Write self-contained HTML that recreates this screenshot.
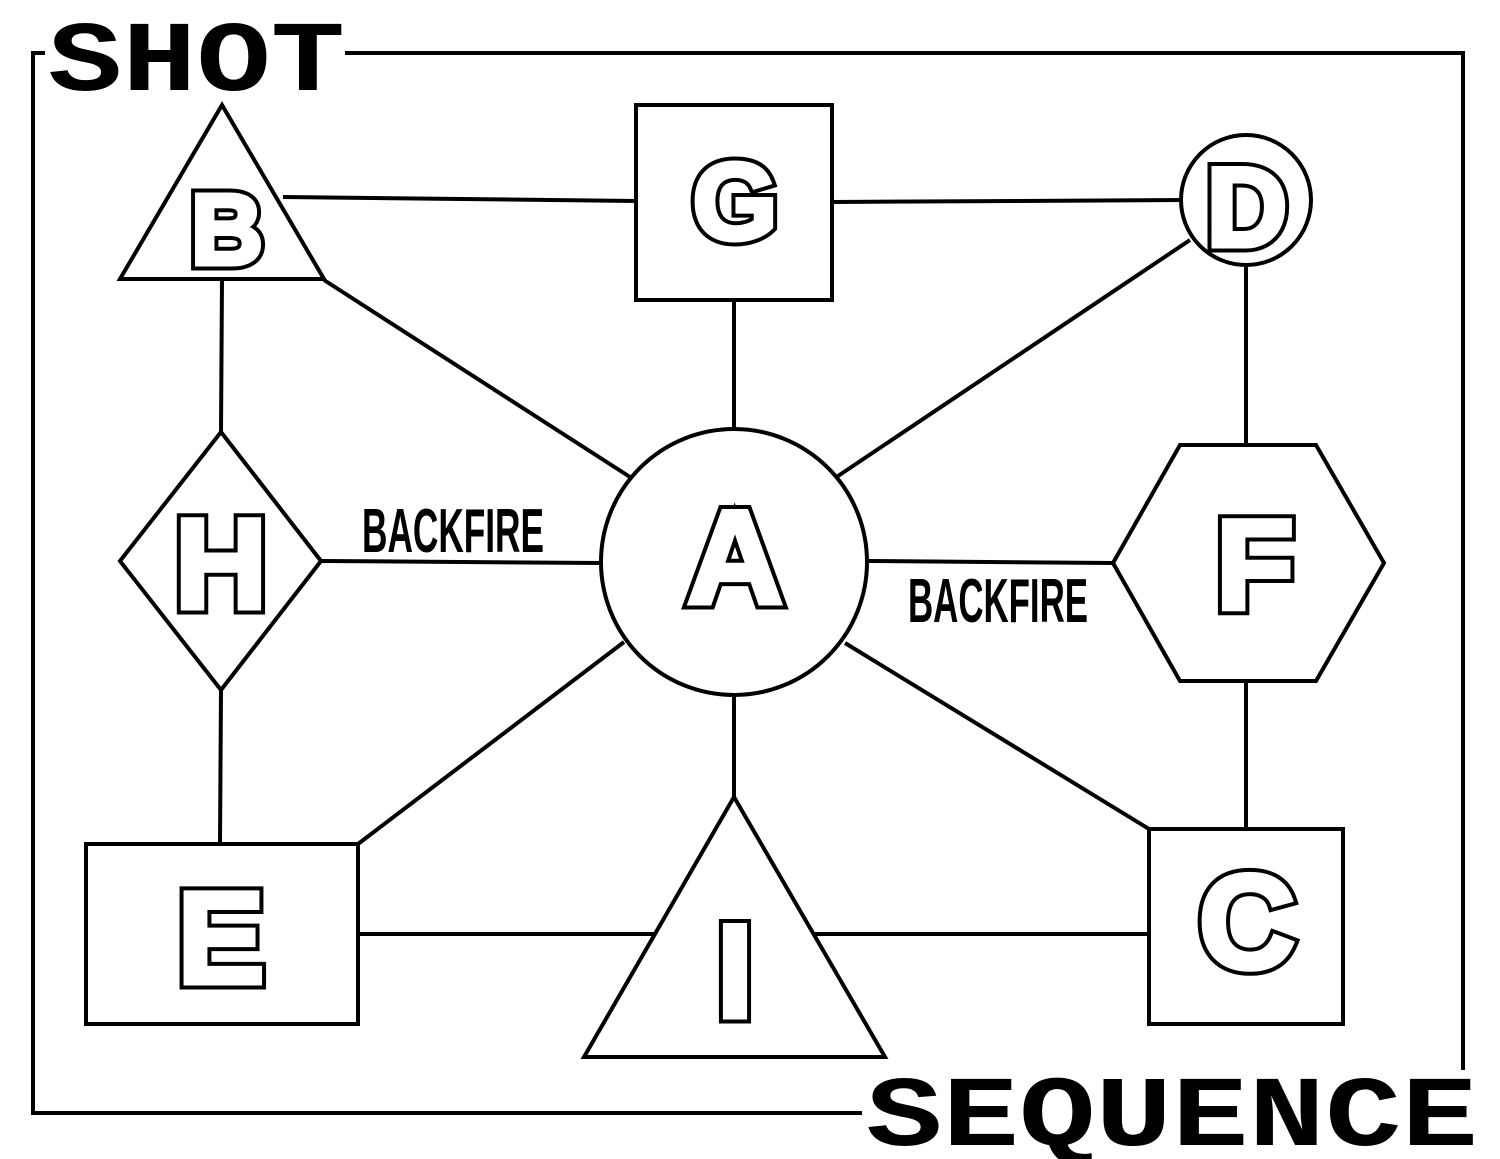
<!DOCTYPE html>
<html><head><style>
html,body{margin:0;padding:0;background:#fff}
svg{display:block}
.s{fill:#fff;stroke:#000;stroke-width:4}
.ln{stroke:#000;stroke-width:4;fill:none}
.bf{font-family:"Liberation Sans",sans-serif;font-weight:bold;font-size:62px;fill:#000}
.t{font-family:"Liberation Mono",monospace;font-weight:bold;font-size:100px;fill:#000}
</style></head><body>
<svg width="1500" height="1159" viewBox="0 0 1500 1159" xmlns="http://www.w3.org/2000/svg">
<rect x="33" y="53" width="1430" height="1060" fill="none" stroke="#000" stroke-width="4"/>
<rect x="45" y="15" width="300" height="80" fill="#fff"/>
<rect x="862" y="1070" width="620" height="80" fill="#fff"/>
<g class="ln">
<line x1="283" y1="197" x2="636" y2="201"/>
<line x1="832" y1="202" x2="1181" y2="200"/>
<line x1="324" y1="280" x2="630" y2="477"/>
<line x1="734" y1="300" x2="734" y2="429"/>
<line x1="1190" y1="240" x2="838" y2="476"/>
<line x1="1246" y1="265" x2="1246" y2="445"/>
<line x1="222" y1="279" x2="221" y2="432"/>
<line x1="321" y1="561" x2="601" y2="563"/>
<line x1="867" y1="561" x2="1113" y2="563"/>
<line x1="221" y1="690" x2="220" y2="844"/>
<line x1="624" y1="642" x2="358" y2="844"/>
<line x1="734" y1="695" x2="734" y2="797"/>
<line x1="845" y1="643" x2="1149" y2="829"/>
<line x1="1246" y1="681" x2="1246" y2="829"/>
<line x1="358" y1="934" x2="655" y2="934"/>
<line x1="814" y1="934" x2="1149" y2="934"/>
</g>
<polygon class="s" points="222,105 120,279 324,279"/>
<rect class="s" x="636" y="105" width="196" height="195"/>
<circle class="s" cx="1246" cy="200" r="65"/>
<polygon class="s" points="221,432 321,561 221,690 120,561"/>
<circle class="s" cx="734" cy="562" r="133"/>
<polygon class="s" points="1113,563 1180,445 1316,445 1384,563 1316,681 1180,681"/>
<rect class="s" x="86" y="844" width="272" height="180"/>
<polygon class="s" points="734,797 584,1057 885,1057"/>
<rect class="s" x="1149" y="829" width="194" height="195"/>
<g font-family="Liberation Sans, sans-serif" font-weight="bold" text-anchor="middle" fill="#000" stroke="#000" stroke-width="13" stroke-linejoin="miter">
<text x="227" y="264" font-size="100">B</text>
<text x="735" y="239" font-size="109">G</text>
<text x="1247" y="246" font-size="112">D</text>
<text x="221" y="608" font-size="128">H</text>
<text x="735" y="603" font-size="133">A</text>
<text x="1255" y="609" font-size="128">F</text>
<text x="221" y="983" font-size="131">E</text>
<text x="735" y="1017" font-size="133">I</text>
<text x="1247" y="968" font-size="134">C</text>
</g>
<g font-family="Liberation Sans, sans-serif" font-weight="bold" text-anchor="middle" fill="#fff" stroke="#fff" stroke-width="5" stroke-linejoin="miter">
<text x="227" y="264" font-size="100">B</text>
<text x="735" y="239" font-size="109">G</text>
<text x="1247" y="246" font-size="112">D</text>
<text x="221" y="608" font-size="128">H</text>
<text x="735" y="603" font-size="133">A</text>
<text x="1255" y="609" font-size="128">F</text>
<text x="221" y="983" font-size="131">E</text>
<text x="735" y="1017" font-size="133">I</text>
<text x="1247" y="968" font-size="134">C</text>
</g>
<text class="bf" x="362" y="552" textLength="182" lengthAdjust="spacingAndGlyphs">BACKFIRE</text>
<text class="bf" x="908" y="622" textLength="180" lengthAdjust="spacingAndGlyphs">BACKFIRE</text>
<text class="t" x="48" y="90" textLength="297" lengthAdjust="spacingAndGlyphs">SHOT</text>
<text class="t" x="866" y="1145" textLength="612" lengthAdjust="spacingAndGlyphs">SEQUENCE</text>
</svg>
</body></html>
